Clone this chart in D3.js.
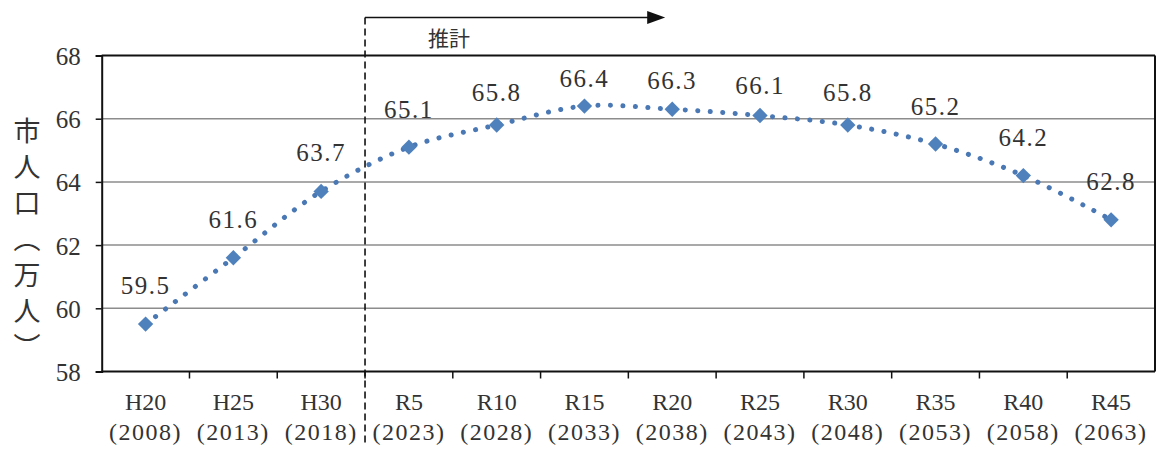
<!DOCTYPE html>
<html>
<head>
<meta charset="utf-8">
<script src="https://cdn.jsdelivr.net/npm/d3@7"></script>
<style>
  body { margin: 0; background: #fff; }
  svg text { fill: #333; }
  .num { font-family: "Liberation Serif", "Noto Sans CJK JP", serif; }
</style>
</head>
<body>
<div id="canvas"></div>
<script>
// era labels + western year (two-line x labels)
const eras = ["H20", "H25", "H30", "R5", "R10", "R15", "R20", "R25", "R30", "R35", "R40", "R45"];
const years = ["2008", "2013", "2018", "2023", "2028", "2033", "2038", "2043", "2048", "2053", "2058", "2063"];
const population = [59.5, 61.6, 63.7, 65.1, 65.8, 66.4, 66.3, 66.1, 65.8, 65.2, 64.2, 62.8];
const yTicks = [58, 60, 62, 64, 66, 68];
const forecastStart = "R5";

const w = 1157;
const h = 449;
const margin = { top: 55.5, bottom: 77.5, left: 101.7, right: 2 };
const width = w - (margin.left + margin.right);
const height = h - (margin.top + margin.bottom);
const cjkFont = "'Noto Sans CJK JP', sans-serif";

const svg = d3.select("#canvas").append("svg")
  .attr("width", w)
  .attr("height", h);

const g = svg.append("g")
  .attr("transform", `translate(${margin.left},${margin.top})`);

const x = d3.scaleBand().domain(eras).range([0, width]);
const y = d3.scaleLinear().domain([58, 68]).range([height, 0]);

// gridlines
g.selectAll(".grid")
  .data(yTicks.filter(t => t > 58 && t < 68))
  .enter().append("line")
  .attr("x1", 0).attr("x2", width)
  .attr("y1", d => y(d)).attr("y2", d => y(d))
  .attr("stroke", "#8c8c8c").attr("stroke-width", 1.5);

// frame
g.append("line").attr("x1", 0).attr("x2", width).attr("y1", 0).attr("y2", 0)
  .attr("stroke", "#111").attr("stroke-width", 2);
g.append("line").attr("x1", width).attr("x2", width).attr("y1", 0).attr("y2", height)
  .attr("stroke", "#111").attr("stroke-width", 2);

// y axis
const yAxis = g.append("g")
  .call(d3.axisLeft(y).tickValues(yTicks).tickSize(6).tickPadding(15))
  .attr("font-family", null);
yAxis.select(".domain").attr("stroke", "#111").attr("stroke-width", 2);
yAxis.selectAll(".tick line").attr("stroke", "#111").attr("stroke-width", 1.5);
yAxis.selectAll("text")
  .attr("class", "num")
  .style("font-size", "25px")
  .attr("fill", "#3a3a3a")
  .attr("dy", "0.36em");

// x axis: ticks on band boundaries
const xAxis = g.append("g").attr("transform", `translate(0,${height})`);
xAxis.append("line").attr("x1", 0).attr("x2", width).attr("y1", 0).attr("y2", 0)
  .attr("stroke", "#111").attr("stroke-width", 2);
xAxis.selectAll(".xt")
  .data(eras.slice(1))
  .enter().append("line")
  .attr("x1", d => x(d)).attr("x2", d => x(d))
  .attr("y1", 0).attr("y2", 7)
  .attr("stroke", "#111").attr("stroke-width", 1.5);

const xl = xAxis.selectAll(".xl")
  .data(eras)
  .enter().append("text")
  .attr("class", "num")
  .attr("text-anchor", "middle")
  .style("font-size", "24px")
  .attr("fill", "#3a3a3a");
xl.append("tspan")
  .attr("x", d => x(d) + x.bandwidth() / 2)
  .attr("y", 38)
  .text(d => d);
xl.append("tspan")
  .attr("x", d => x(d) + x.bandwidth() / 2)
  .attr("y", 68)
  .attr("letter-spacing", 1.5)
  .text((d, i) => "(" + years[i] + ")");

// forecast divider + arrow
const fx = x(forecastStart);
const ay = 17.5 - margin.top;
const tipX = x("R20") + x.bandwidth() * 0.42;

g.append("line")
  .attr("x1", fx).attr("x2", fx)
  .attr("y1", ay).attr("y2", h - margin.top - 3)
  .attr("stroke", "#111").attr("stroke-width", 1.6)
  .attr("stroke-dasharray", "7,4");

g.append("path")
  .attr("d", `M${fx},${ay} H${tipX - 16}`)
  .attr("stroke", "#111").attr("stroke-width", 1.6).attr("fill", "none");
g.append("path")
  .attr("d", `M${tipX},${ay} L${tipX - 18},${ay - 6.5} L${tipX - 18},${ay + 6.5} Z`)
  .attr("fill", "#111");

g.append("text")
  .attr("x", fx + 84).attr("y", 46 - margin.top)
  .attr("text-anchor", "middle")
  .attr("font-family", cjkFont).attr("font-size", 21)
  .attr("fill", "#222")
  .text("推計");

// y axis title (vertical)
svg.append("text")
  .attr("x", 27).attr("y", 117)
  .attr("writing-mode", "vertical-rl")
  .attr("font-family", cjkFont).attr("font-size", 27)
  .attr("letter-spacing", 9)
  .attr("fill", "#333")
  .text("市人口（万人）");

// line
const pts = eras.map((d, i) => [x(d) + x.bandwidth() / 2, y(population[i])]);
g.append("path")
  .datum(pts)
  .attr("d", d3.line().curve(d3.curveCatmullRom.alpha(0.5)))
  .attr("fill", "none")
  .attr("stroke", "#4a78b4")
  .attr("stroke-width", 5)
  .attr("stroke-linecap", "round")
  .attr("stroke-dasharray", "0.1,12.4");

// markers
g.selectAll(".pt")
  .data(pts)
  .enter().append("path")
  .attr("d", d3.symbol(d3.symbolSquare, 118))
  .attr("transform", d => `translate(${d[0]},${d[1]}) rotate(45)`)
  .attr("fill", "#4f81bd");

// data labels
g.selectAll(".lbl")
  .data(pts)
  .enter().append("text")
  .attr("class", "num")
  .attr("x", d => d[0])
  .attr("y", d => d[1] - 30 + Math.max(0, 150 - margin.top - d[1]) * 0.25)
  .attr("text-anchor", "middle")
  .style("font-size", "25px")
  .attr("letter-spacing", 1.5)
  .attr("fill", "#3a3a3a")
  .text((d, i) => population[i].toFixed(1));
</script>
</body>
</html>
